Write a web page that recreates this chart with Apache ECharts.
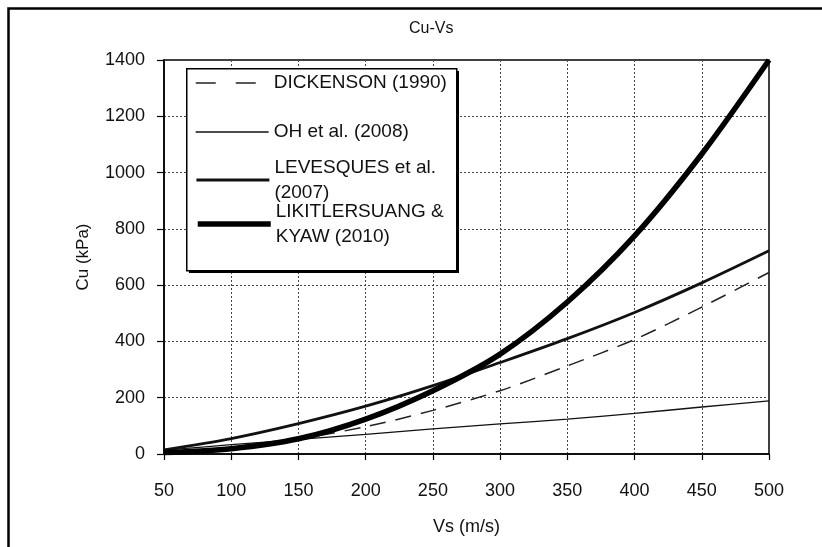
<!DOCTYPE html>
<html>
<head>
<meta charset="utf-8">
<script src="https://cdn.jsdelivr.net/npm/echarts@6/dist/echarts.min.js"></script>
<style>
html,body{margin:0;padding:0;background:#fff;}
#chart{width:822px;height:547px;}
</style>
</head>
<body>
<div id="chart"></div>
<script>
const titleText = 'Cu-Vs';
const xAxisName = 'Vs (m/s)';
const yAxisName = 'Cu (kPa)';
const vsValues = [50, 100, 150, 200, 250, 300, 350, 400, 450, 500];
const dickenson = [6, 23, 54, 97, 155, 225, 313, 407, 522, 645];
const ohEtAl = [14, 33, 52, 70, 89, 107, 124, 144, 167, 189];
const levesques = [15, 55, 108, 170, 243, 325, 410, 503, 608, 722];
const likitlersuang = [5, 19, 54, 124, 225, 355, 540, 775, 1066, 1400];
const seriesNames = ['DICKENSON (1990)', 'OH et al. (2008)', 'LEVESQUES et al.\n(2007)', 'LIKITLERSUANG &\nKYAW (2010)'];

const pairs = (ys) => vsValues.map((x, i) => [x, ys[i]]);
const FONT = '"Liberation Sans", Arial, sans-serif';
const INK = '#111';

const chart = echarts.init(document.getElementById('chart'), null, {renderer: 'canvas'});

function legendAt(name, top, lineStyle, twoLine) {
  const ts = {fontFamily: FONT, fontSize: 19, color: INK, lineHeight: 25};
  if (twoLine) ts.padding = [25, 0, 0, 0];
  return {
    data: [name],
    orient: 'vertical',
    left: 195,
    top: top,
    padding: 0,
    itemWidth: 73,
    itemHeight: 14,
    selectedMode: false,
    z: 5,
    itemStyle: {opacity: 0, color: 'rgba(0,0,0,0)', borderWidth: 0},
    lineStyle: lineStyle,
    textStyle: ts
  };
}

const option = {
  backgroundColor: '#fff',
  animation: false,
  title: {
    text: titleText,
    left: 409,
    top: 21,
    padding: 0,
    textStyle: {fontFamily: FONT, fontSize: 16, fontWeight: 'normal', color: INK}
  },
  grid: {
    left: 164, right: 53, top: 60, bottom: 93,
    show: true, borderColor: '#000', borderWidth: 1.5,
    containLabel: false, outerBoundsMode: 'none'
  },
  xAxis: {
    type: 'value', min: 50, max: 500, interval: 50,
    name: xAxisName, nameLocation: 'middle', nameGap: 64,
    nameTextStyle: {fontFamily: FONT, fontSize: 18, color: INK},
    axisLine: {lineStyle: {color: '#000', width: 1.5}},
    axisTick: {show: true, length: 6, lineStyle: {color: '#000', width: 1.2}},
    axisLabel: {fontFamily: FONT, fontSize: 18, color: INK, margin: 28, formatter: (v) => String(v)},
    splitLine: {show: true, lineStyle: {color: '#444', width: 1, type: [2, 2]}}
  },
  yAxis: {
    type: 'value', min: 0, max: 1400, interval: 200,
    name: yAxisName, nameLocation: 'middle', nameGap: 72, nameRotate: 90,
    nameTextStyle: {fontFamily: FONT, fontSize: 17, color: INK},
    axisLine: {show: true, lineStyle: {color: '#000', width: 1.5}},
    axisTick: {show: true, length: 7, lineStyle: {color: '#000', width: 1.2}},
    axisLabel: {fontFamily: FONT, fontSize: 18, color: INK, margin: 19, formatter: (v) => String(v)},
    splitLine: {show: true, lineStyle: {color: '#444', width: 1, type: [2, 2]}}
  },
  legend: [
    legendAt(seriesNames[0], 70.5, {type: [20, 20], width: 1.5, color: '#222'}, false),
    legendAt(seriesNames[1], 119.5, {type: 'solid', width: 1.3, color: '#111'}, false),
    legendAt(seriesNames[2], 142.5, {type: 'solid', width: 2.8, color: '#111'}, true),
    legendAt(seriesNames[3], 186.5, {type: 'solid', width: 5.5, color: '#000'}, true)
  ],
  graphic: [
    {type: 'rect', left: 6, top: 6, z: 10, silent: true,
     shape: {width: 900, height: 700},
     style: {fill: 'none', stroke: '#000', lineWidth: 2.5}},
    {type: 'rect', left: 189, top: 71, z: 3, silent: true,
     shape: {width: 270, height: 202},
     style: {fill: '#000', stroke: null}},
    {type: 'rect', left: 186, top: 68, z: 3, silent: true,
     shape: {width: 270, height: 202},
     style: {fill: '#fff', stroke: '#000', lineWidth: 1.5}}
  ],
  series: [
    {name: seriesNames[0], type: 'line', data: pairs(dickenson), smooth: 0.3,
     symbol: 'none', lineStyle: {color: '#222', width: 1.5, type: [16, 10]}, itemStyle: {color: '#222'}, z: 2},
    {name: seriesNames[1], type: 'line', data: pairs(ohEtAl), smooth: 0.3,
     symbol: 'none', lineStyle: {color: '#111', width: 1.3}, itemStyle: {color: '#111'}, z: 2},
    {name: seriesNames[2], type: 'line', data: pairs(levesques), smooth: 0.3,
     symbol: 'none', lineStyle: {color: '#111', width: 2.8}, itemStyle: {color: '#111'}, z: 2},
    {name: seriesNames[3], type: 'line', data: pairs(likitlersuang), smooth: 0.3,
     symbol: 'none', lineStyle: {color: '#000', width: 5.5}, itemStyle: {color: '#000'}, z: 2}
  ]
};
chart.setOption(option);
</script>
</body>
</html>
